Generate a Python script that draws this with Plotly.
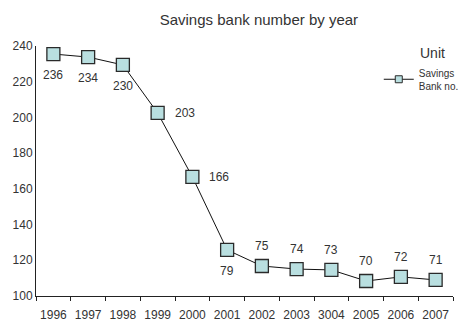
import plotly.graph_objects as go

years = ["1996", "1997", "1998", "1999", "2000", "2001", "2002", "2003", "3004", "2005", "2006", "2007"]
plotted = [235.5, 233.8, 229.4, 202.5, 166.7, 125.8, 116.8, 115.1, 114.6, 108.4, 110.7, 109.0]
labels = [236, 234, 230, 203, 166, 79, 75, 74, 73, 70, 72, 71]
label_side = ["below", "below", "below", "right", "right", "below", "above", "above", "above", "above", "above", "above"]
y_ticks = [100, 120, 140, 160, 180, 200, 220, 240]

FONT = "Liberation Sans"
TXT = "#333333"

fig = go.Figure()
fig.add_trace(go.Scatter(
    x=years, y=plotted, mode="lines+markers", showlegend=False,
    line=dict(color="#111111", width=1),
    marker=dict(symbol="square", size=13, color="#b9dfe0", line=dict(color="#2a2a2a", width=1.3)),
    hoverinfo="skip",
))
fig.add_trace(go.Scatter(
    x=[None], y=[None], mode="lines+markers", name="Savings<br>Bank no.",
    line=dict(color="#111111", width=1),
    marker=dict(symbol="square", size=7, color="#b9dfe0", line=dict(color="#2a2a2a", width=1)),
))

annotations = []
for i, (yv, lab, side) in enumerate(zip(plotted, labels, label_side)):
    xs, ys = 0, 0
    if side == "below":
        ys = -21
    elif side == "above":
        ys = 20
    else:
        xs = 27
    annotations.append(dict(x=i, y=yv, xref="x", yref="y", text=str(lab), showarrow=False,
                            xshift=xs, yshift=ys,
                            font=dict(family=FONT, size=12, color=TXT)))
annotations.append(dict(x=1.0, y=1.0, xref="paper", yref="paper", xanchor="right", yanchor="top",
                        text="Unit", showarrow=False, xshift=-6, yshift=3,
                        font=dict(family=FONT, size=14, color=TXT)))

fig.update_layout(
    width=464, height=322,
    margin=dict(l=36, r=0, t=46, b=26),
    paper_bgcolor="white", plot_bgcolor="white",
    title=dict(text="Savings bank number by year", x=0.558, xanchor="center", y=0.94, yanchor="middle",
               font=dict(family=FONT, size=15, color=TXT)),
    font=dict(family=FONT, size=12, color=TXT),
    annotations=annotations,
    legend=dict(x=0.822, y=0.945, xanchor="left", yanchor="top", bgcolor="rgba(0,0,0,0)",
                font=dict(family=FONT, size=10, color=TXT)),
)
fig.update_xaxes(
    type="category", range=[-0.5, 11.5], showgrid=False, zeroline=False,
    showline=True, linecolor="#222222", linewidth=1, tickangle=0,
    ticks="outside", tickson="boundaries", ticklen=4, tickcolor="#222222",
    ticklabelstandoff=8,
    tickfont=dict(family=FONT, size=12, color=TXT),
)
fig.update_yaxes(
    range=[100, 240], tickvals=y_ticks, showgrid=False, zeroline=False,
    showline=True, linecolor="#222222", linewidth=1, ticks="", ticklen=0,
    tickfont=dict(family=FONT, size=12, color=TXT),
)
fig.write_html("out.html")
